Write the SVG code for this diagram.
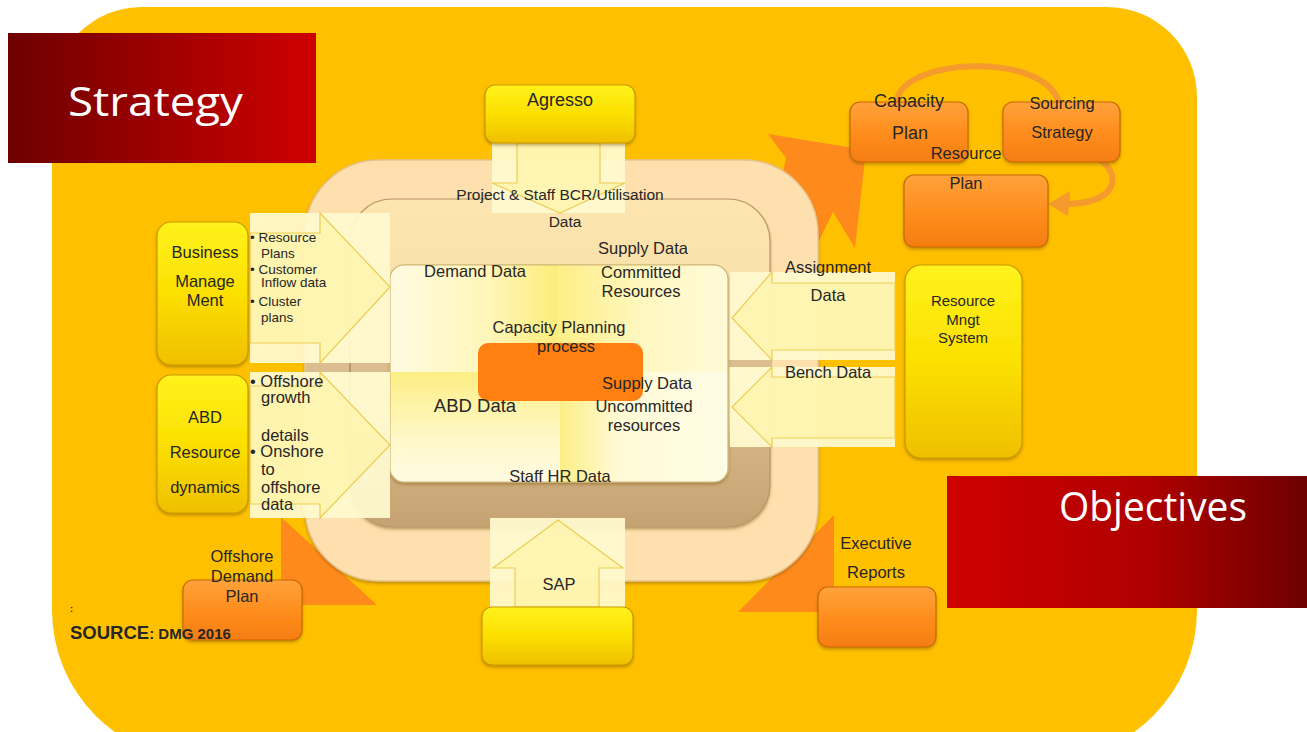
<svg xmlns="http://www.w3.org/2000/svg" width="1307" height="732" viewBox="0 0 1307 732">
  <defs>
    <linearGradient id="gStrategy" x1="0" y1="0" x2="1" y2="0">
      <stop offset="0" stop-color="#6e0000"/>
      <stop offset="1" stop-color="#cf0000"/>
    </linearGradient>
    <linearGradient id="gObjectives" x1="0" y1="0" x2="1" y2="0">
      <stop offset="0" stop-color="#cf0000"/>
      <stop offset="0.55" stop-color="#b00000"/>
      <stop offset="1" stop-color="#6e0000"/>
    </linearGradient>
    <linearGradient id="gYellowBox" x1="0" y1="0" x2="0" y2="1">
      <stop offset="0" stop-color="#fff21c"/>
      <stop offset="0.5" stop-color="#fbe000"/>
      <stop offset="1" stop-color="#efbf00"/>
    </linearGradient>
    <linearGradient id="gOrangeBox" x1="0" y1="0" x2="0" y2="1">
      <stop offset="0" stop-color="#ffa23a"/>
      <stop offset="0.5" stop-color="#ff8e1e"/>
      <stop offset="1" stop-color="#f57d10"/>
    </linearGradient>
    <linearGradient id="gMiddle" x1="0" y1="0" x2="0" y2="1">
      <stop offset="0" stop-color="#fde5b0"/>
      <stop offset="0.68" stop-color="#f8daa2"/>
      <stop offset="0.76" stop-color="#d4b282"/>
      <stop offset="1" stop-color="#c4a272"/>
    </linearGradient>
    <linearGradient id="gQuadTL" x1="0" y1="0" x2="1" y2="0">
      <stop offset="0" stop-color="#fffbe2"/>
      <stop offset="0.6" stop-color="#fff6b8"/>
      <stop offset="1" stop-color="#fdec7a"/>
    </linearGradient>
    <linearGradient id="gQuadTR" x1="0" y1="0" x2="1" y2="0">
      <stop offset="0" stop-color="#fdee86"/>
      <stop offset="0.5" stop-color="#fff7c0"/>
      <stop offset="1" stop-color="#fffad8"/>
    </linearGradient>
    <linearGradient id="gQuadBL" x1="0" y1="0" x2="0" y2="1">
      <stop offset="0" stop-color="#fdee84"/>
      <stop offset="0.6" stop-color="#fff8c8"/>
      <stop offset="1" stop-color="#fffbe2"/>
    </linearGradient>
    <linearGradient id="gQuadBR" x1="0" y1="0" x2="1" y2="0">
      <stop offset="0" stop-color="#fdee84"/>
      <stop offset="0.35" stop-color="#fffad6"/>
      <stop offset="1" stop-color="#fffce6"/>
    </linearGradient>
    <filter id="shadow" x="-10%" y="-10%" width="125%" height="130%">
      <feDropShadow dx="0" dy="2" stdDeviation="1.6" flood-color="#7a5200" flood-opacity="0.45"/>
    </filter>
  </defs>
  <style>
    .lbl { font-family: "Liberation Sans", Arial, sans-serif; fill: #262626; }
    .c { text-anchor: middle; }
    .s16 { font-size: 16.5px; }
    .s14 { font-size: 13.5px; }
    .title { font-family: "Open Sans", "Liberation Sans", sans-serif; fill: #ffffff; font-size: 40px; }
    .ybox { fill: url(#gYellowBox); stroke: #c99a00; stroke-width: 1.2; filter: url(#shadow); }
    .obox { fill: url(#gOrangeBox); stroke: #c9690a; stroke-width: 1.2; filter: url(#shadow); }
    .pale { fill: #fffad0; opacity: 0.93; }
    .flow { fill: #fff3a0; fill-opacity: 0.6; stroke: #ebcd52; stroke-width: 1.2; }
    .bigarrow { fill: #ff8a1c; }
    .band { fill: #dcbd8f; }
  </style>

  <rect width="1307" height="732" fill="#ffffff"/>

  <!-- slide backdrop -->
  <path d="M142,7 H1107 A90,90 0 0 1 1197,97 V610 A150,150 0 0 1 1047,760 H202 A150,150 0 0 1 52,610 V97 A90,90 0 0 1 142,7 Z" fill="#ffc000"/>

  <!-- banner titles -->
  <g id="strategy">
    <rect x="8" y="33" width="308" height="130" fill="url(#gStrategy)"/>
    <text class="title" x="68" y="116" textLength="175" lengthAdjust="spacingAndGlyphs">Strategy</text>
  </g>
  <g id="objectives">
    <rect x="947" y="476" width="360" height="132" fill="url(#gObjectives)"/>
    <text class="title" x="1059" y="521" textLength="188" lengthAdjust="spacingAndGlyphs">Objectives</text>
  </g>

  <!-- big orange output arrows and the planning cycle -->
  <g id="connectors-outputs">
    <polygon class="bigarrow" points="768,134 866,150 855,248 833,212 812,255 770,235 786,158"/>
    <polygon class="bigarrow" points="281,517 281,605 377,605"/>
    <polygon class="bigarrow" points="834,515 738,612 834,612"/>
    <path d="M897,100 C905,58 1040,52 1058,100" fill="none" stroke="#f59a2c" stroke-width="6" stroke-linecap="round"/>
    <path d="M1100,160 C1122,175 1118,203 1066,204" fill="none" stroke="#f59a2c" stroke-width="6" stroke-linecap="round"/>
    <polygon points="1048,204 1070,191 1068,216" fill="#f59a2c"/>
  </g>

  <!-- nested process frame -->
  <g id="process-frame">
    <rect x="305" y="160" width="513" height="421" rx="74" fill="#fde0ae" stroke="#e6c38c" stroke-width="1.5" filter="url(#shadow)"/>
    <rect x="350" y="199" width="420" height="328" rx="42" fill="url(#gMiddle)" stroke="#b8966a" stroke-width="1.2" filter="url(#shadow)"/>
    <rect class="band" x="306" y="363" width="84" height="9"/>
    <rect x="349" y="363" width="2" height="9" fill="#b89868"/>
    <rect class="band" x="728" y="360" width="44" height="7"/>
  </g>

  <g id="capacity-planning">
    <rect x="390" y="265" width="338" height="217" rx="14" fill="#fff8c8" stroke="#cfb878" stroke-width="1.2" filter="url(#shadow)"/>
    <path d="M404,265 H557 V372 H390 V279 A14,14 0 0 1 404,265 Z" fill="url(#gQuadTL)"/>
    <path d="M557,265 H714 A14,14 0 0 1 728,279 V372 H557 Z" fill="url(#gQuadTR)"/>
    <path d="M390,372 H560 V482 H404 A14,14 0 0 1 390,468 Z" fill="url(#gQuadBL)"/>
    <path d="M560,372 H728 V468 A14,14 0 0 1 714,482 H560 Z" fill="url(#gQuadBR)"/>
    <rect x="390" y="265" width="338" height="217" rx="14" fill="none" stroke="#cfb878" stroke-width="1.2"/>
    <rect x="478" y="343" width="165" height="58" rx="10" fill="#ff7f10"/>
  </g>

  <!-- data flows into the planning process -->
  <g id="connectors">
    <!-- Agresso -> Project & Staff BCR/Utilisation data -->
    <rect class="pale" x="492" y="143" width="133" height="70"/>
    <polygon class="flow" points="517,143 600,143 600,183 625,183 560,213 492,183 517,183"/>
    <!-- Business Management -> demand inputs -->
    <rect class="pale" x="250" y="213" width="140" height="150"/>
    <polygon class="flow" points="250,233 320,233 320,213 390,287 320,363 320,343 250,343"/>
    <!-- ABD Resource dynamics -> ABD data -->
    <rect class="pale" x="250" y="372" width="140" height="146"/>
    <polygon class="flow" points="250,386 320,386 320,372 390,445 320,518 320,504 250,504"/>
    <!-- Resource Mngt System -> Assignment data -->
    <rect class="pale" x="730" y="272" width="165" height="88"/>
    <polygon class="flow" points="895,283 772,283 772,272 732,318 772,360 772,350 895,350"/>
    <!-- Resource Mngt System -> Bench data -->
    <rect class="pale" x="730" y="367" width="165" height="80"/>
    <polygon class="flow" points="895,377 772,377 772,367 732,407 772,447 772,438 895,438"/>
    <!-- SAP -> Staff HR data -->
    <rect class="pale" x="490" y="518" width="135" height="89"/>
    <polygon class="flow" points="515,607 515,568 493,568 558,520 623,568 599,568 599,607"/>
  </g>

  <!-- source systems and plans -->
  <g id="agresso">
    <rect class="ybox" x="485" y="85" width="150" height="58" rx="10"/>
    <text class="lbl c" x="560" y="106" font-size="18">Agresso</text>
  </g>
  <g id="business-management">
    <rect class="ybox" x="157" y="222" width="91" height="143" rx="14"/>
    <text class="lbl c s16" x="205" y="258">Business</text>
    <text class="lbl c s16" x="205" y="287">Manage</text>
    <text class="lbl c s16" x="205" y="306">Ment</text>
  </g>
  <g id="abd-resource-dynamics">
    <rect class="ybox" x="157" y="375" width="91" height="138" rx="14"/>
    <text class="lbl c s16" x="205" y="423">ABD</text>
    <text class="lbl c s16" x="205" y="458">Resource</text>
    <text class="lbl c s16" x="205" y="493">dynamics</text>
  </g>
  <g id="resource-mngt-system">
    <rect class="ybox" x="905" y="265" width="117" height="193" rx="16"/>
    <text class="lbl c" x="963" y="306" font-size="15">Resource</text>
    <text class="lbl c" x="963" y="325" font-size="15">Mngt</text>
    <text class="lbl c" x="963" y="343" font-size="15">System</text>
  </g>
  <g id="sap">
    <rect class="ybox" x="482" y="607" width="151" height="58" rx="10"/>
  </g>
  <g id="capacity-plan">
    <rect class="obox" x="850" y="102" width="118" height="60" rx="10"/>
    <text class="lbl c" x="909" y="107" font-size="18">Capacity</text>
    <text class="lbl c" x="910" y="139" font-size="18">Plan</text>
  </g>
  <g id="sourcing-strategy">
    <rect class="obox" x="1003" y="102" width="117" height="60" rx="10"/>
    <text class="lbl c s16" x="1062" y="109">Sourcing</text>
    <text class="lbl c s16" x="1062" y="138">Strategy</text>
  </g>
  <g id="resource-plan">
    <rect class="obox" x="904" y="175" width="144" height="72" rx="10"/>
    <text class="lbl c s16" x="966" y="159">Resource</text>
    <text class="lbl c s16" x="966" y="189">Plan</text>
  </g>
  <g id="offshore-demand-plan">
    <rect class="obox" x="183" y="580" width="119" height="60" rx="10"/>
    <text class="lbl c s16" x="242" y="562">Offshore</text>
    <text class="lbl c s16" x="242" y="582">Demand</text>
    <text class="lbl c s16" x="242" y="602">Plan</text>
  </g>
  <g id="executive-reports">
    <rect class="obox" x="818" y="587" width="118" height="60" rx="10"/>
    <text class="lbl c s16" x="876" y="549">Executive</text>
    <text class="lbl c s16" x="876" y="578">Reports</text>
  </g>

  <!-- flow and quadrant labels -->
  <g id="labels">
    <text class="lbl s14" x="250" y="242">• Resource</text>
    <text class="lbl s14" x="261" y="258">Plans</text>
    <text class="lbl s14" x="250" y="274">• Customer</text>
    <text class="lbl s14" x="261" y="287">Inflow data</text>
    <text class="lbl s14" x="250" y="306">• Cluster</text>
    <text class="lbl s14" x="261" y="322">plans</text>

    <text class="lbl s16" x="250" y="387">• Offshore</text>
    <text class="lbl s16" x="261" y="403">growth</text>
    <text class="lbl s16" x="261" y="441">details</text>
    <text class="lbl s16" x="250" y="457">• Onshore</text>
    <text class="lbl s16" x="261" y="475">to</text>
    <text class="lbl s16" x="261" y="493">offshore</text>
    <text class="lbl s16" x="261" y="510">data</text>

    <text class="lbl c" x="560" y="200" font-size="15.5">Project &amp; Staff BCR/Utilisation</text>
    <text class="lbl c" x="565" y="227" font-size="15.5">Data</text>
    <text class="lbl c s16" x="643" y="254">Supply Data</text>
    <text class="lbl c s16" x="475" y="277">Demand Data</text>
    <text class="lbl c s16" x="641" y="278">Committed</text>
    <text class="lbl c s16" x="641" y="297">Resources</text>
    <text class="lbl c s16" x="559" y="333">Capacity Planning</text>
    <text class="lbl c s16" x="566" y="352">process</text>
    <text class="lbl c s16" x="647" y="389">Supply Data</text>
    <text class="lbl c" x="475" y="412" font-size="18.5">ABD Data</text>
    <text class="lbl c s16" x="644" y="412">Uncommitted</text>
    <text class="lbl c s16" x="644" y="431">resources</text>
    <text class="lbl c s16" x="560" y="482">Staff HR Data</text>

    <text class="lbl c s16" x="828" y="273">Assignment</text>
    <text class="lbl c s16" x="828" y="301">Data</text>
    <text class="lbl c s16" x="828" y="378">Bench Data</text>

    <text class="lbl c s16" x="559" y="590">SAP</text>
  </g>

  <g id="source-note">
    <text class="lbl" x="70" y="612" font-size="9" font-weight="bold" fill="#1a1a1a">:</text>
    <text class="lbl" x="70" y="639" font-size="18.5" font-weight="bold" fill="#1a1a1a">SOURCE<tspan font-size="15">: DMG 2016</tspan></text>
  </g>
</svg>
